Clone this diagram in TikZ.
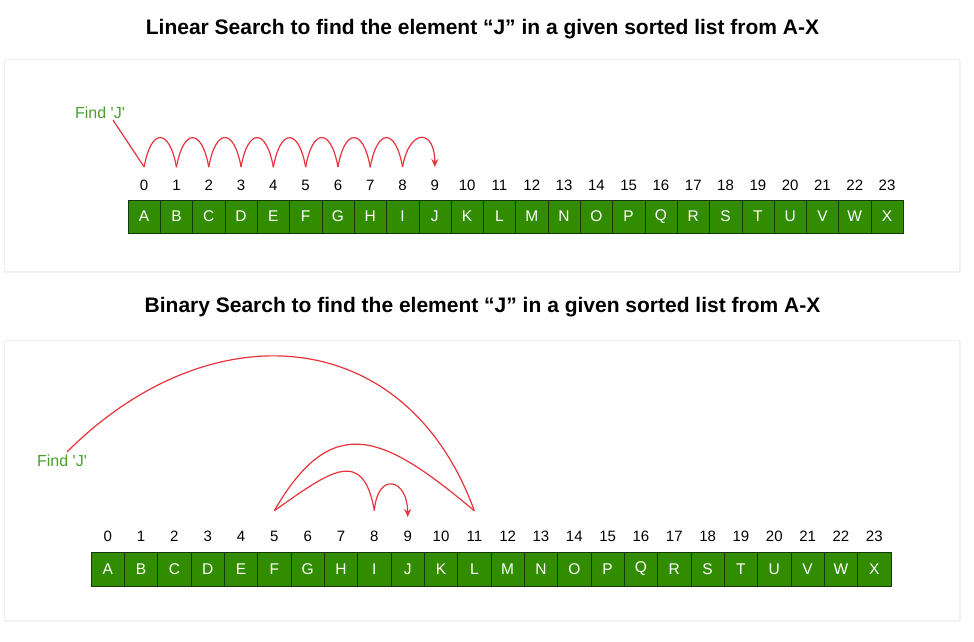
\documentclass[tikz,border=0pt]{standalone}
\usepackage{fontspec}
\setmainfont{Liberation Sans}
\usepackage{tikz}
\usetikzlibrary{positioning,arrows.meta}
\definecolor{cellgreen}{RGB}{50,140,0}
\definecolor{celledge}{RGB}{22,55,8}
\definecolor{hopred}{RGB}{232,52,60}
\definecolor{labgreen}{RGB}{75,160,45}

\begin{document}
\begin{tikzpicture}[x=1pt,y=1pt,
  card/.style={draw=black!6,line width=1pt,fill=white},
  shade/.style={fill=black!5,draw=none},
  ttl/.style={anchor=base,inner sep=0pt,font=\fontsize{21}{24}\selectfont\bfseries},
  cellA/.style={draw=celledge,fill=cellgreen,text=white,minimum width=32.3pt,minimum height=33pt,inner sep=0pt,outer sep=0pt,font=\fontsize{15.5}{18}\selectfont},
  cellB/.style={cellA,minimum width=33.33pt,minimum height=34pt},
  idx/.style={inner sep=0pt,font=\fontsize{15}{18}\selectfont},
  find/.style={text=labgreen,inner sep=0pt,font=\fontsize{16}{19}\selectfont},
  hop/.style={draw=hopred,line width=1.2pt},
  >={Stealth[length=8pt,width=7pt]}]
  \fill[white] (0,0) rectangle (974,641);
  \useasboundingbox (0,0) rectangle (974,641);
  % cards
  \fill[shade] (5,368) rectangle (961,580);
  \path[card] (4,370) rectangle (959,581);
  \fill[shade] (5,19) rectangle (961,300);
  \path[card] (4,21) rectangle (959,301);
  \node (t1) [ttl] at (482.5,606.7) {Linear Search to find the element “J” in a given sorted list from A-X};
  \node (t2) [ttl] at (482.5,328.3) {Binary Search to find the element “J” in a given sorted list from A-X};

  % linear search
  \foreach \l [count=\i from 0] in {A,B,C,D,E,F,G,H,I,J,K,L,M,N,O,P,Q,R,S,T,U,V,W,X} {
    \node (a\i) [cellA] at ({144.15+32.3*\i},424.5) {\l};
    \node (p\i) [idx,above=9.5pt of a\i] {\i};
    \coordinate (u\i) at ([yshift=12.5pt]p\i.north);
  }
  \node (f1) [find] at (100,528) {Find \textquotesingle J\textquotesingle};
  \draw[hop] ([xshift=13pt,yshift=-1pt]f1.south) -- (u0);
  \foreach \i [evaluate=\i as \j using int(\i+1)] in {0,...,7}
    \draw[hop] (u\i) .. controls +(80:40) and +(100:40) .. (u\j);
  \draw[hop,->] (u8) .. controls +(80:40) and +(90:38) .. (u9);

  % binary search
  \foreach \l [count=\i from 0] in {A,B,C,D,E,F,G,H,I,J,K,L,M,N,O,P,Q,R,S,T,U,V,W,X} {
    \node (b\i) [cellB] at ({107.7+33.33*\i},72) {\l};
    \node (q\i) [idx,above=10.5pt of b\i] {\i};
    \coordinate (w\i) at ([yshift=20pt]q\i.north);
  }
  \coordinate (v9) at ([yshift=13.5pt]q9.north);
  \node (f2) [find] at (62,180) {Find \textquotesingle J\textquotesingle};
  \draw[hop] ([xshift=5pt,yshift=3pt]f2.north) to[out=45,in=110,looseness=1.25] (w11);
  \draw[hop] (w11) to[out=140,in=60,looseness=1.5] (w5);
  \draw[hop] (w5) to[out=35,in=100,looseness=1.7] (w8);
  \draw[hop,->] (w8) .. controls +(85:40) and +(90:38) .. (v9);
\end{tikzpicture}
\end{document}
